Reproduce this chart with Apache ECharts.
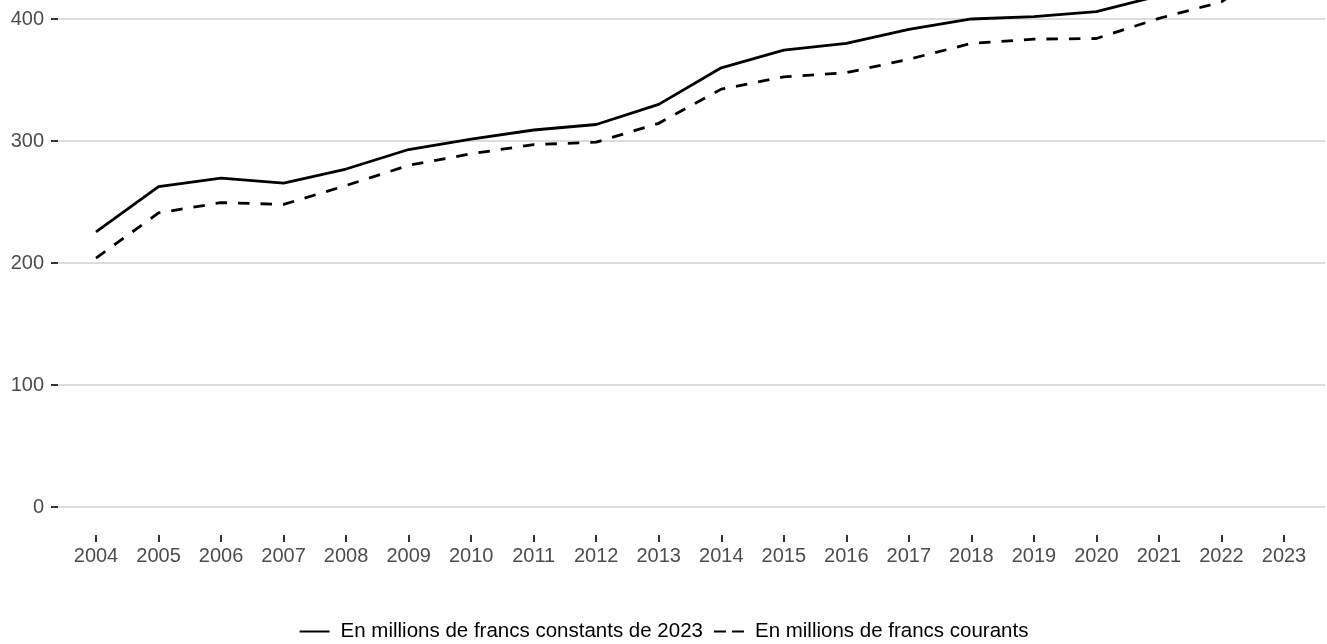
<!DOCTYPE html>
<html lang="fr">
<head>
    <meta charset="UTF-8">
    <title>Evolution</title>
    <style>
        html, body { margin: 0; padding: 0; background: #fff; }
    </style>
</head>
<body>
<div id="main" style="width: 1327px;height:644px;"></div>
<script src="https://cdn.jsdelivr.net/npm/echarts@6/dist/echarts.min.js"></script>
<script>
    var myChart = echarts.init(document.getElementById('main'));

    // années
    var years = ['2004', '2005', '2006', '2007', '2008', '2009', '2010', '2011', '2012', '2013',
        '2014', '2015', '2016', '2017', '2018', '2019', '2020', '2021', '2022', '2023'];
    // valeurs
    var constants = [225.5, 262.5, 269.5, 265.5, 277, 293, 301.5, 309, 313.5, 330,
        360, 374.5, 380, 391.5, 400, 402, 406, 419, 423, 450];
    var courants = [204, 241, 249.5, 248, 263.5, 280, 289.5, 297, 299, 314.5,
        342.5, 352.5, 356, 367, 380, 383.5, 384, 400.5, 414, 450];
    var yTicks = [0, 100, 200, 300, 400, 500];

    var font = 'Liberation Sans';

    myChart.setOption({
        animation: false,
        textStyle: { fontFamily: font },
        legend: {
            top: 621,
            left: 'center',
            padding: 0,
            itemWidth: 30,
            itemHeight: 14,
            itemGap: 10,
            itemStyle: { opacity: 0, borderWidth: 0 },
            textStyle: { fontSize: 20.5, color: '#000', fontFamily: font, padding: [0, 0, 0, 6] },
            data: [
                { name: 'En millions de francs constants de 2023' },
                { name: 'En millions de francs courants', lineStyle: { type: [12, 6] } }
            ]
        },
        grid: [
            // panneau (lignes de grille + axe y)
            { left: 58, right: 2, top: -103, bottom: 137, outerBoundsMode: 'none', containLabel: false },
            // données, un peu étendu vers le bas comme le panneau ggplot
            { left: 96, right: 43, top: -103, bottom: 109, outerBoundsMode: 'none', containLabel: false }
        ],
        xAxis: [
            { type: 'value', gridIndex: 0, show: false, min: 0, max: 1 },
            {
                type: 'category',
                gridIndex: 1,
                data: years,
                boundaryGap: false,
                axisLine: { show: false, onZero: false },
                axisTick: { show: true, length: 7, lineStyle: { color: '#333', width: 2 } },
                axisLabel: { interval: 0, margin: 11, fontSize: 20, color: '#4d4d4d', fontFamily: font },
                splitLine: { show: false }
            }
        ],
        yAxis: [
            {
                type: 'value',
                gridIndex: 0,
                min: yTicks[0],
                max: yTicks[yTicks.length - 1],
                interval: 100,
                axisLine: { show: false },
                axisTick: { show: true, length: 7, lineStyle: { color: '#333', width: 2 } },
                axisLabel: { margin: 14, fontSize: 20, color: '#4d4d4d', fontFamily: font },
                splitLine: { show: true, lineStyle: { color: '#dcdcdc', width: 2 } }
            },
            {
                type: 'value',
                gridIndex: 1,
                min: -23,
                max: yTicks[yTicks.length - 1],
                show: false,
                splitLine: { show: false }
            }
        ],
        series: [
            {
                name: 'En millions de francs constants de 2023',
                type: 'line',
                xAxisIndex: 1,
                yAxisIndex: 1,
                data: constants,
                symbol: 'none',
                lineStyle: { color: '#000', width: 2.8, type: 'solid' },
                itemStyle: { color: '#000' }
            },
            {
                name: 'En millions de francs courants',
                type: 'line',
                xAxisIndex: 1,
                yAxisIndex: 1,
                data: courants,
                symbol: 'none',
                lineStyle: { color: '#000', width: 2.8, type: [11.5, 11] },
                itemStyle: { color: '#000' }
            }
        ]
    });
</script>
</body>
</html>
